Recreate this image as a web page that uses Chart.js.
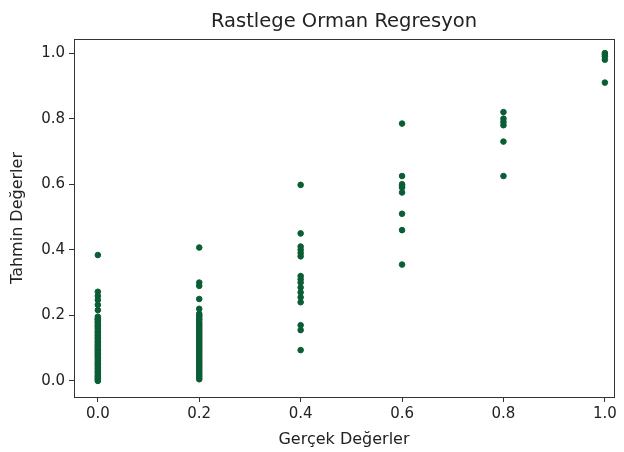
<!DOCTYPE html>
<html lang="tr">
  <head>
    <meta charset="UTF-8" />
    <title>Rastlege Orman Regresyon</title>
    <script src="https://cdn.jsdelivr.net/npm/chart.js"></script>
    <style>
      html, body { margin: 0; padding: 0; background: #fff; }
      #wrap { width: 624px; height: 452px; }
    </style>
  </head>
  <body>
    <div id="wrap"><canvas id="rfChart" width="624" height="452"></canvas></div>

    <script>
      const actualValues = [0.0, 0.2, 0.4, 0.6, 0.8, 1.0];

      const predAt00 = [
        0.384, 0.272, 0.259, 0.247, 0.232, 0.216, 0.196,
        0.19, 0.188, 0.185, 0.18, 0.177, 0.172, 0.168, 0.165, 0.16, 0.155,
        0.15, 0.147, 0.142, 0.138, 0.133, 0.13, 0.125, 0.12, 0.117, 0.112,
        0.108, 0.104, 0.1, 0.096, 0.092, 0.088, 0.084, 0.08, 0.076, 0.072,
        0.068, 0.063, 0.058, 0.054, 0.05, 0.046, 0.041, 0.037, 0.032, 0.028,
        0.024, 0.019, 0.015, 0.011, 0.007, 0.003, 0.0
      ];
      const predAt02 = [
        0.407, 0.30, 0.29, 0.25, 0.22,
        0.205, 0.2, 0.196, 0.19, 0.186, 0.18, 0.175, 0.17, 0.165, 0.16,
        0.155, 0.15, 0.145, 0.14, 0.135, 0.13, 0.125, 0.12, 0.115, 0.11,
        0.105, 0.1, 0.095, 0.09, 0.085, 0.08, 0.075, 0.07, 0.065, 0.06,
        0.055, 0.05, 0.045, 0.04, 0.035, 0.03, 0.025, 0.02, 0.015, 0.01, 0.005
      ];
      const predAt04 = [
        0.598, 0.45, 0.41, 0.40, 0.39, 0.38, 0.32, 0.31, 0.30, 0.285,
        0.27, 0.255, 0.24, 0.17, 0.155, 0.094
      ];
      const predAt06 = [0.785, 0.625, 0.60, 0.595, 0.59, 0.575, 0.51, 0.46, 0.355];
      const predAt08 = [0.82, 0.80, 0.79, 0.78, 0.73, 0.625];
      const predAt10 = [1.0, 0.995, 0.99, 0.98, 0.91];

      const xTickValues = [0.0, 0.2, 0.4, 0.6, 0.8, 1.0];
      const yTickValues = [0.0, 0.2, 0.4, 0.6, 0.8, 1.0];

      const predGroups = [predAt00, predAt02, predAt04, predAt06, predAt08, predAt10];
      const points = [];
      predGroups.forEach((group, i) => {
        group.forEach((p) => points.push({ x: actualValues[i], y: p }));
      });

      const tickFont = { family: "DejaVu Sans", size: 15 };
      const labelFont = { family: "DejaVu Sans", size: 16 };

      // matplotlib-like box around the plot + title centred over the axes
      const framePlugin = {
        id: "frame",
        afterDraw(chart) {
          const { ctx, chartArea: a } = chart;
          ctx.save();
          ctx.strokeStyle = "#333";
          ctx.lineWidth = 1;
          ctx.strokeRect(a.left + 0.5, a.top + 0.5, a.right - a.left, a.bottom - a.top);
          ctx.fillStyle = "#222";
          ctx.font = "19.5px 'DejaVu Sans'";
          ctx.textAlign = "center";
          ctx.textBaseline = "middle";
          ctx.fillText("Rastlege Orman Regresyon", (a.left + a.right) / 2, 22);
          ctx.restore();
        },
      };

      const ctx = document.getElementById("rfChart").getContext("2d");
      new Chart(ctx, {
        type: "scatter",
        data: {
          datasets: [
            {
              label: "Tahmin",
              data: points,
              backgroundColor: "#0b5d36",
              borderColor: "#0b5d36",
              pointRadius: 2.8,
              pointHoverRadius: 2.8,
              clip: false,
            },
          ],
        },
        options: {
          responsive: false,
          animation: false,
          layout: { padding: { top: 39, right: 10, left: 0, bottom: 0 } },
          plugins: {
            legend: { display: false },
            title: { display: false },
            tooltip: { enabled: false },
          },
          scales: {
            x: {
              type: "linear",
              min: -0.047,
              max: 1.018,
              afterFit: (s) => { s.height = 55; },
              afterBuildTicks: (s) => { s.ticks = xTickValues.map((v) => ({ value: v })); },
              border: { display: false },
              grid: { drawOnChartArea: false, drawTicks: true, tickLength: 5, color: "#333" },
              ticks: {
                color: "#222",
                font: tickFont,
                padding: 3,
                maxRotation: 0,
                callback: (v) => Number(v).toFixed(1),
              },
              title: {
                display: true,
                text: "Gerçek Değerler",
                color: "#222",
                font: labelFont,
                padding: { top: 0, bottom: 3 },
              },
            },
            y: {
              type: "linear",
              min: -0.049,
              max: 1.043,
              afterFit: (s) => { s.width = 74; },
              afterBuildTicks: (s) => { s.ticks = yTickValues.map((v) => ({ value: v })); },
              border: { display: false },
              grid: { drawOnChartArea: false, drawTicks: true, tickLength: 5, color: "#333" },
              ticks: {
                color: "#222",
                font: tickFont,
                padding: 4,
                callback: (v) => Number(v).toFixed(1),
              },
              title: {
                display: true,
                text: "Tahmin Değerler",
                color: "#222",
                font: labelFont,
                padding: { top: 8, bottom: 0 },
              },
            },
          },
        },
        plugins: [framePlugin],
      });
    </script>
  </body>
</html>
